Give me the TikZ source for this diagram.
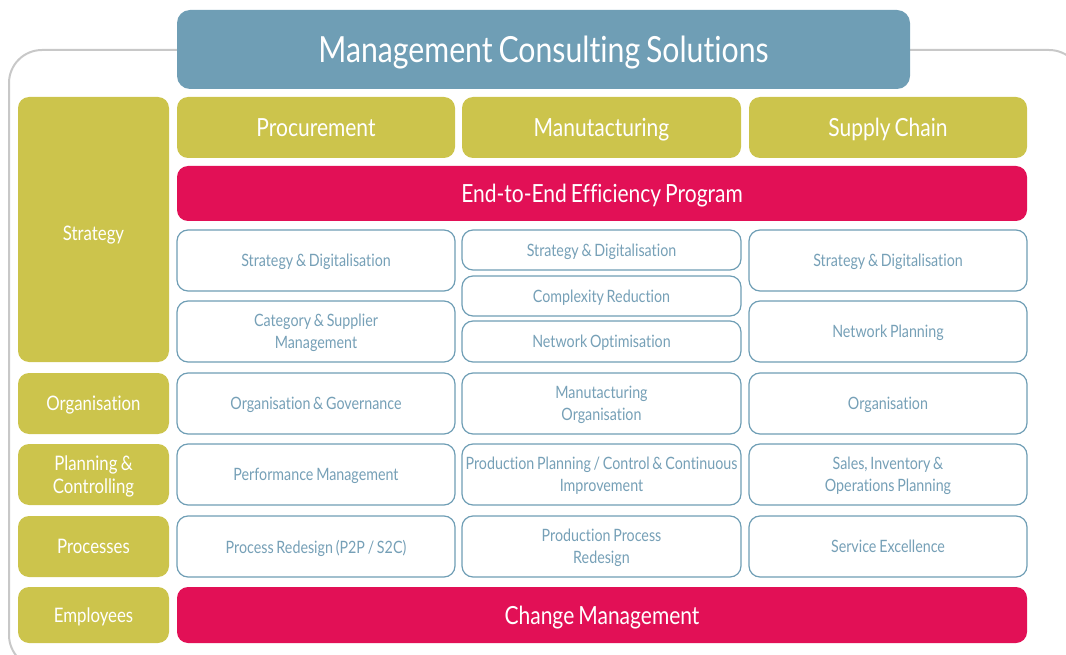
\documentclass[tikz,border=0pt]{standalone}
\usepackage{fontspec}
\setmainfont{Lato}[FakeStretch=0.84, WordSpace=0.75, Ligatures=NoCommon]
\definecolor{olive}{RGB}{204,196,76}
\definecolor{crimson}{RGB}{226,16,86}
\definecolor{steel}{RGB}{111,158,181}
\definecolor{steeltext}{RGB}{118,160,183}
\definecolor{framegrey}{RGB}{200,200,200}
\tikzset{
  base/.style={rounded corners=11pt, inner sep=2pt, align=center, text centered, text depth=0pt},
  olivebox/.style={base, fill=olive, text=white, font=\fontsize{20}{23}\selectfont},
  headbox/.style={base, fill=olive, text=white, font=\fontsize{25}{28}\selectfont},
  redbox/.style={base, fill=crimson, text=white, font=\fontsize{25}{28}\selectfont},
  titlebox/.style={base, rounded corners=13pt, fill=steel, text=white, font=\fontsize{36}{42}\selectfont},
  topicbox/.style={base, draw=steel, line width=1.2pt, fill=white, text=steeltext, font=\fontsize{17}{22}\selectfont},
}
% \cellbox{name}{x1}{y1}{x2}{y2}{style}{text}
\newcommand\cellbox[7]{%
  \node[#6, minimum width=#4pt-#2pt, minimum height=#5pt-#3pt]
    (#1) at ({(#2+#4)/2},{(#3+#5)/2}) {#7};}
\begin{document}
\begin{tikzpicture}[x=1pt, y=-1pt]
\useasboundingbox (0,0) rectangle (1066,655);
% outer frame, running past the page edges
\begin{scope}
  \clip (0,0) rectangle (1066,655);
  \draw[framegrey, line width=2pt, rounded corners=33pt] (9,50) rectangle (1082,668);
\end{scope}
% title
\cellbox{title}{177}{10}{910}{89}{titlebox}{Management Consulting Solutions}
% row labels
\cellbox{strategy}{18}{97}{169}{362}{olivebox}{\raisebox{-8pt}{Strategy}}
\cellbox{organisation}{18}{373}{169}{434}{olivebox}{Organisation}
\cellbox{planning}{18}{444}{169}{505}{olivebox}{Planning \&\\Controlling}
\cellbox{processes}{18}{516}{169}{577}{olivebox}{Processes}
\cellbox{employees}{18}{587}{169}{643}{olivebox}{Employees}
% column heads
\cellbox{procurement}{177}{97}{455}{158}{headbox}{Procurement}
\cellbox{manufacturing}{462}{97}{741}{158}{headbox}{Manutacturing}
\cellbox{supply}{749}{97}{1027}{158}{headbox}{Supply Chain}
% programme bars
\cellbox{e2e}{177}{166}{1027}{221}{redbox}{End-to-End Efficiency Program}
\cellbox{change}{177}{587}{1027}{643}{redbox}{Change Management}
% strategy row
\cellbox{p1}{177}{230}{455}{291}{topicbox}{Strategy \& Digitalisation}
\cellbox{p2}{177}{301}{455}{362}{topicbox}{Category \& Supplier\\Management}
\cellbox{m1}{462}{230}{741}{270}{topicbox}{Strategy \& Digitalisation}
\cellbox{m2}{462}{276}{741}{316}{topicbox}{Complexity Reduction}
\cellbox{m3}{462}{321}{741}{362}{topicbox}{Network Optimisation}
\cellbox{s1}{749}{230}{1027}{291}{topicbox}{Strategy \& Digitalisation}
\cellbox{s2}{749}{301}{1027}{362}{topicbox}{Network Planning}
% organisation row
\cellbox{p3}{177}{373}{455}{434}{topicbox}{Organisation \& Governance}
\cellbox{m4}{462}{373}{741}{434}{topicbox}{Manutacturing\\Organisation}
\cellbox{s3}{749}{373}{1027}{434}{topicbox}{Organisation}
% planning row
\cellbox{p4}{177}{444}{455}{505}{topicbox}{Performance Management}
\cellbox{m5}{462}{444}{741}{505}{topicbox}{Production Planning / Control \& Continuous\\Improvement}
\cellbox{s4}{749}{444}{1027}{505}{topicbox}{Sales, Inventory \&\\Operations Planning}
% processes row
\cellbox{p5}{177}{516}{455}{577}{topicbox}{Process Redesign (P2P / S2C)}
\cellbox{m6}{462}{516}{741}{577}{topicbox}{Production Process\\Redesign}
\cellbox{s5}{749}{516}{1027}{577}{topicbox}{Service Excellence}
\end{tikzpicture}
\end{document}
